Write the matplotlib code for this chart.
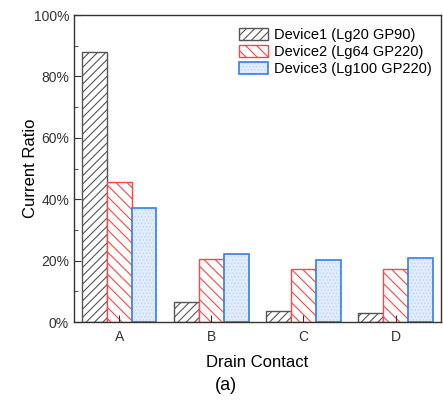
import matplotlib
import numpy as np

matplotlib.use('Agg')
import matplotlib.pyplot as plt
from matplotlib.legend_handler import HandlerTuple
from matplotlib.patches import Patch
from matplotlib.ticker import MultipleLocator, PercentFormatter

plt.rcParams['font.family'] = ['Liberation Sans', 'DejaVu Sans']
plt.rcParams['hatch.linewidth'] = 0.8

# Data (percent)
contacts = ['A', 'B', 'C', 'D']
device_labels = ['Device1 (Lg20 GP90)', 'Device2 (Lg64 GP220)', 'Device3 (Lg100 GP220)']
device1 = [88.0, 6.6, 3.5, 2.9]
device2 = [45.6, 20.4, 17.2, 17.4]
device3 = [37.2, 22.3, 20.3, 20.7]

fig = plt.figure(figsize=(4.43, 4.0), dpi=100)
ax = fig.add_axes([0.167, 0.195, 0.828, 0.7675])

x = np.arange(len(contacts))
w = 0.27

# Device1: gray diagonal hatch
ax.bar(x - w, device1, width=w, facecolor='white', edgecolor='#555555', hatch='////', linewidth=1.0)
# Device2: red back-diagonal hatch
ax.bar(x, device2, width=w, facecolor='white', edgecolor='#ff4545', hatch='\\\\\\', linewidth=1.0)
# Device3: light blue fill with fine dots, blue outline
ax.bar(x + w, device3, width=w, facecolor='#e2edfb', edgecolor='#c6d9f3', hatch='.....', linewidth=0)
ax.bar(x + w, device3, width=w, facecolor='none', edgecolor='#3080e6', linewidth=1.2)

ax.set_xlim(-0.49, 3.49)
ax.set_ylim(0, 100)
ax.set_xticks(x)
ax.set_xticklabels(contacts)
ax.yaxis.set_major_locator(MultipleLocator(20))
ax.yaxis.set_minor_locator(MultipleLocator(10))
ax.yaxis.set_major_formatter(PercentFormatter(decimals=0))
ax.tick_params(axis='both', which='major', direction='in', length=5, labelsize=10,
               color='#333333', labelcolor='#333333')
ax.tick_params(axis='y', which='minor', direction='in', length=3, color='#333333')
ax.tick_params(axis='x', pad=6)
for sp in ax.spines.values():
    sp.set_color('#333333')
    sp.set_linewidth(1.0)

ax.set_ylabel('Current Ratio', fontsize=12, labelpad=-3)
ax.set_xlabel('Drain Contact', fontsize=12, labelpad=8)
fig.text(226 / 443, 1 - 385 / 400, '(a)', fontsize=13, ha='center', va='center')

handles = [
    Patch(facecolor='white', edgecolor='#555555', hatch='////', linewidth=1.0),
    Patch(facecolor='white', edgecolor='#ff4545', hatch='\\\\\\', linewidth=1.0),
    (Patch(facecolor='#e2edfb', edgecolor='#c6d9f3', hatch='.....', linewidth=0),
     Patch(facecolor='none', edgecolor='#3080e6', linewidth=1.2)),
]
ax.legend(handles, device_labels, loc='upper right', bbox_to_anchor=(1.0, 0.985),
          fontsize=10.5, frameon=False, handlelength=2.0, handleheight=0.9,
          labelspacing=0.2, handletextpad=0.4, borderaxespad=0.2,
          handler_map={tuple: HandlerTuple(ndivide=1, pad=0)})

fig.savefig('out.png', dpi=100)
